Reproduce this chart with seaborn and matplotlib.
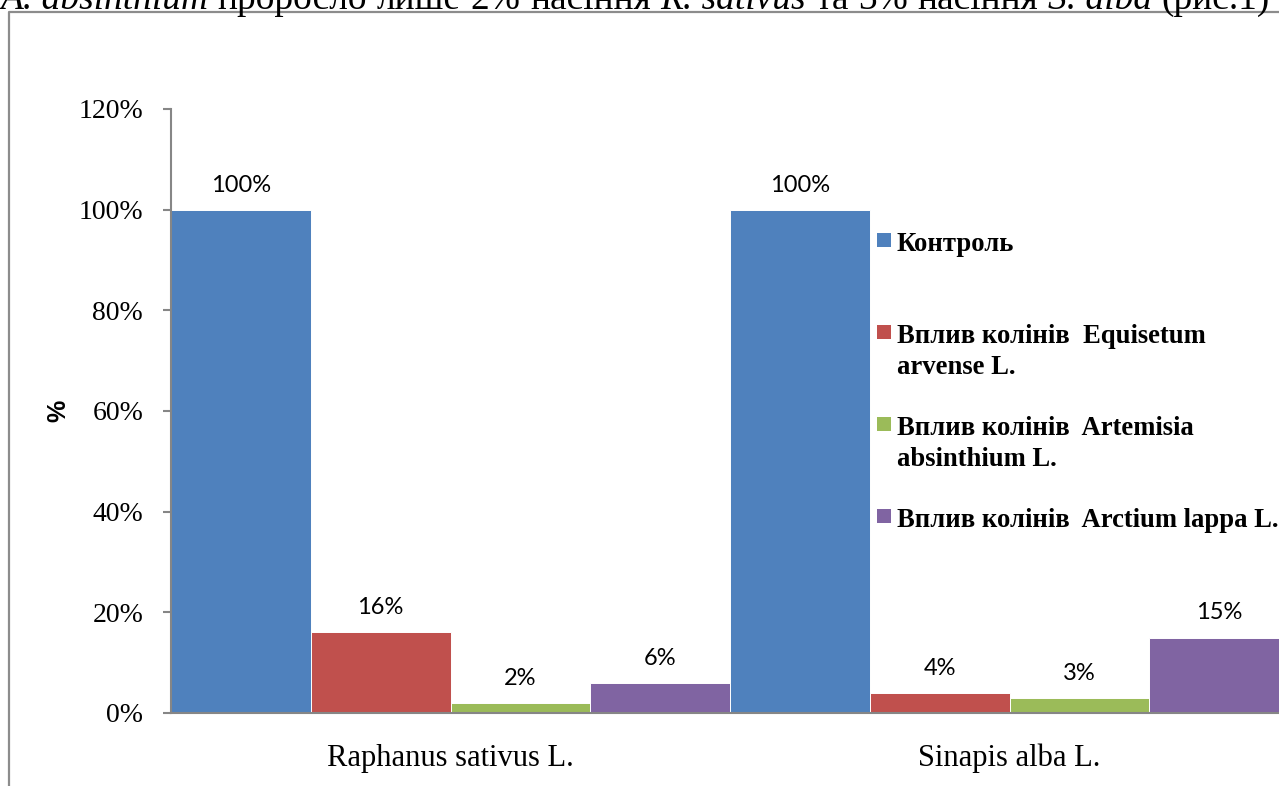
"""Germination of seeds under the influence of plant extracts (bar chart copy)."""

import matplotlib

matplotlib.use("Agg")

import matplotlib.pyplot as plt
import pandas as pd
import seaborn as sns
from matplotlib.lines import Line2D
from matplotlib.patches import Rectangle
from matplotlib.ticker import FuncFormatter, MultipleLocator

W, H = 1279, 786

PLANTS = ["Raphanus sativus L.", "Sinapis alba L."]
TREATMENTS = [
    "Контроль",
    "Вплив колінів  Equisetum arvense L.",
    "Вплив колінів  Artemisia absinthium L.",
    "Вплив колінів  Arctium lappa L.",
]
LEGEND_LINES = [
    ["Контроль"],
    ["Вплив колінів  Equisetum", "arvense L."],
    ["Вплив колінів  Artemisia", "absinthium L."],
    ["Вплив колінів  Arctium lappa L."],
]
CONTROL = [100, 100]
EQUISETUM = [16, 4]
ARTEMISIA = [2, 3]
ARCTIUM = [6, 15]
COLOURS = ["#4F81BD", "#C0504D", "#9BBB59", "#8064A2"]
GREY = "#868686"

# sentence of the document page above the chart (only its lower half is visible)
CAPTION = [
    ("A. absinthium", True), ("проросло", False), ("лише", False), ("2%", False),
    ("насіння", False), ("R. sativus", True), ("та", False), ("3%", False),
    ("насіння", False), ("S. alba", True), ("(рис.1)", False),
]


def px(x, y):
    """pixel position (from top-left) -> figure fraction"""
    return x / W, 1 - y / H


def main() -> int:
    rows = []
    for treat, vals in zip(TREATMENTS, [CONTROL, EQUISETUM, ARTEMISIA, ARCTIUM]):
        for plant, v in zip(PLANTS, vals):
            rows.append({"plant": plant, "treatment": treat, "value": v})
    df = pd.DataFrame(rows)

    sns.set_theme(style="white")
    plt.rcParams["font.family"] = ["Liberation Serif", "DejaVu Serif"]
    plt.rcParams["text.color"] = "black"
    plt.rcParams["axes.labelcolor"] = "black"

    fig = plt.figure(figsize=(W / 100, H / 100), dpi=100)
    ax = fig.add_axes([171 / W, 73 / H, 1118 / W, 604 / H])

    sns.barplot(
        data=df, x="plant", y="value", hue="treatment",
        order=PLANTS, hue_order=TREATMENTS, palette=COLOURS,
        width=1.0, gap=0, saturation=1, edgecolor="white", linewidth=0.7,
        legend=False, ax=ax,
    )
    ax.set_xlim(-0.5, 1.5)
    ax.set_ylim(0, 120)
    ax.yaxis.set_major_locator(MultipleLocator(20))
    ax.yaxis.set_major_formatter(FuncFormatter(lambda v, _: f"{v:.0f}%"))

    for side in ("top", "right"):
        ax.spines[side].set_visible(False)
    for side in ("left", "bottom"):
        ax.spines[side].set_color(GREY)
        ax.spines[side].set_linewidth(1.5)

    ax.tick_params(axis="y", left=True, length=6, width=1.5, color=GREY,
                   pad=14, labelsize=20, labelcolor="black")
    ax.tick_params(axis="x", bottom=False, length=0, pad=22, labelsize=22,
                   labelcolor="black")
    ax.set_xlabel("")
    ax.set_ylabel("%", fontsize=18, fontweight="bold",
                  family=["Liberation Sans", "DejaVu Sans"])
    ax.yaxis.set_label_coords(-0.09, 0.5)

    # value labels above every bar
    for container in ax.containers:
        for bar in container:
            h = bar.get_height()
            ax.annotate(f"{h:.0f}%", (bar.get_x() + bar.get_width() / 2, h),
                        xytext=(0, 13), textcoords="offset points",
                        ha="center", va="baseline", fontsize=17,
                        family=["Lato", "DejaVu Sans"])

    # legend, drawn like the Excel one: squares + bold serif text
    tops = [233, 325, 417, 509]
    for colour, lines, top in zip(COLOURS, LEGEND_LINES, tops):
        x0, y0 = px(877, top + 14)
        fig.add_artist(Rectangle((x0, y0), 14 / W, 14 / H, transform=fig.transFigure,
                                 facecolor=colour, edgecolor="none"))
        for k, line in enumerate(lines):
            fig.text(*px(897, top + 18 + 31 * k), line, fontsize=19.2,
                     fontweight="bold", va="baseline", ha="left")

    # chart frame of the embedded object
    fig.add_artist(Line2D([9 / W, 9 / W, 1.0], [0.0, 1 - 12 / H, 1 - 12 / H],
                          transform=fig.transFigure, color="#8c8c8c", lw=1.6))

    # caption sentence, cut off by the top edge
    renderer = fig.canvas.get_renderer()
    size = 23
    probe = fig.text(0, 0, "a b", fontsize=size)
    probe2 = fig.text(0, 0, "ab", fontsize=size)
    space = (probe.get_window_extent(renderer).width
             - probe2.get_window_extent(renderer).width)
    probe.remove()
    probe2.remove()
    widths = []
    for word, italic in CAPTION:
        t = fig.text(0, 0, word, fontsize=size, style="italic" if italic else "normal")
        widths.append(t.get_window_extent(renderer).width)
        t.remove()
    total = sum(widths) + space * (len(CAPTION) - 1)
    scale = 1270 / total
    x = 0.0
    for (word, italic), w in zip(CAPTION, widths):
        fig.text(*px(x, 9), word, fontsize=size * scale,
                 style="italic" if italic else "normal", va="baseline", ha="left")
        x += (w + space) * scale

    fig.savefig("out.png", dpi=100)
    plt.close(fig)
    return 0


if __name__ == "__main__":
    raise SystemExit(main())
